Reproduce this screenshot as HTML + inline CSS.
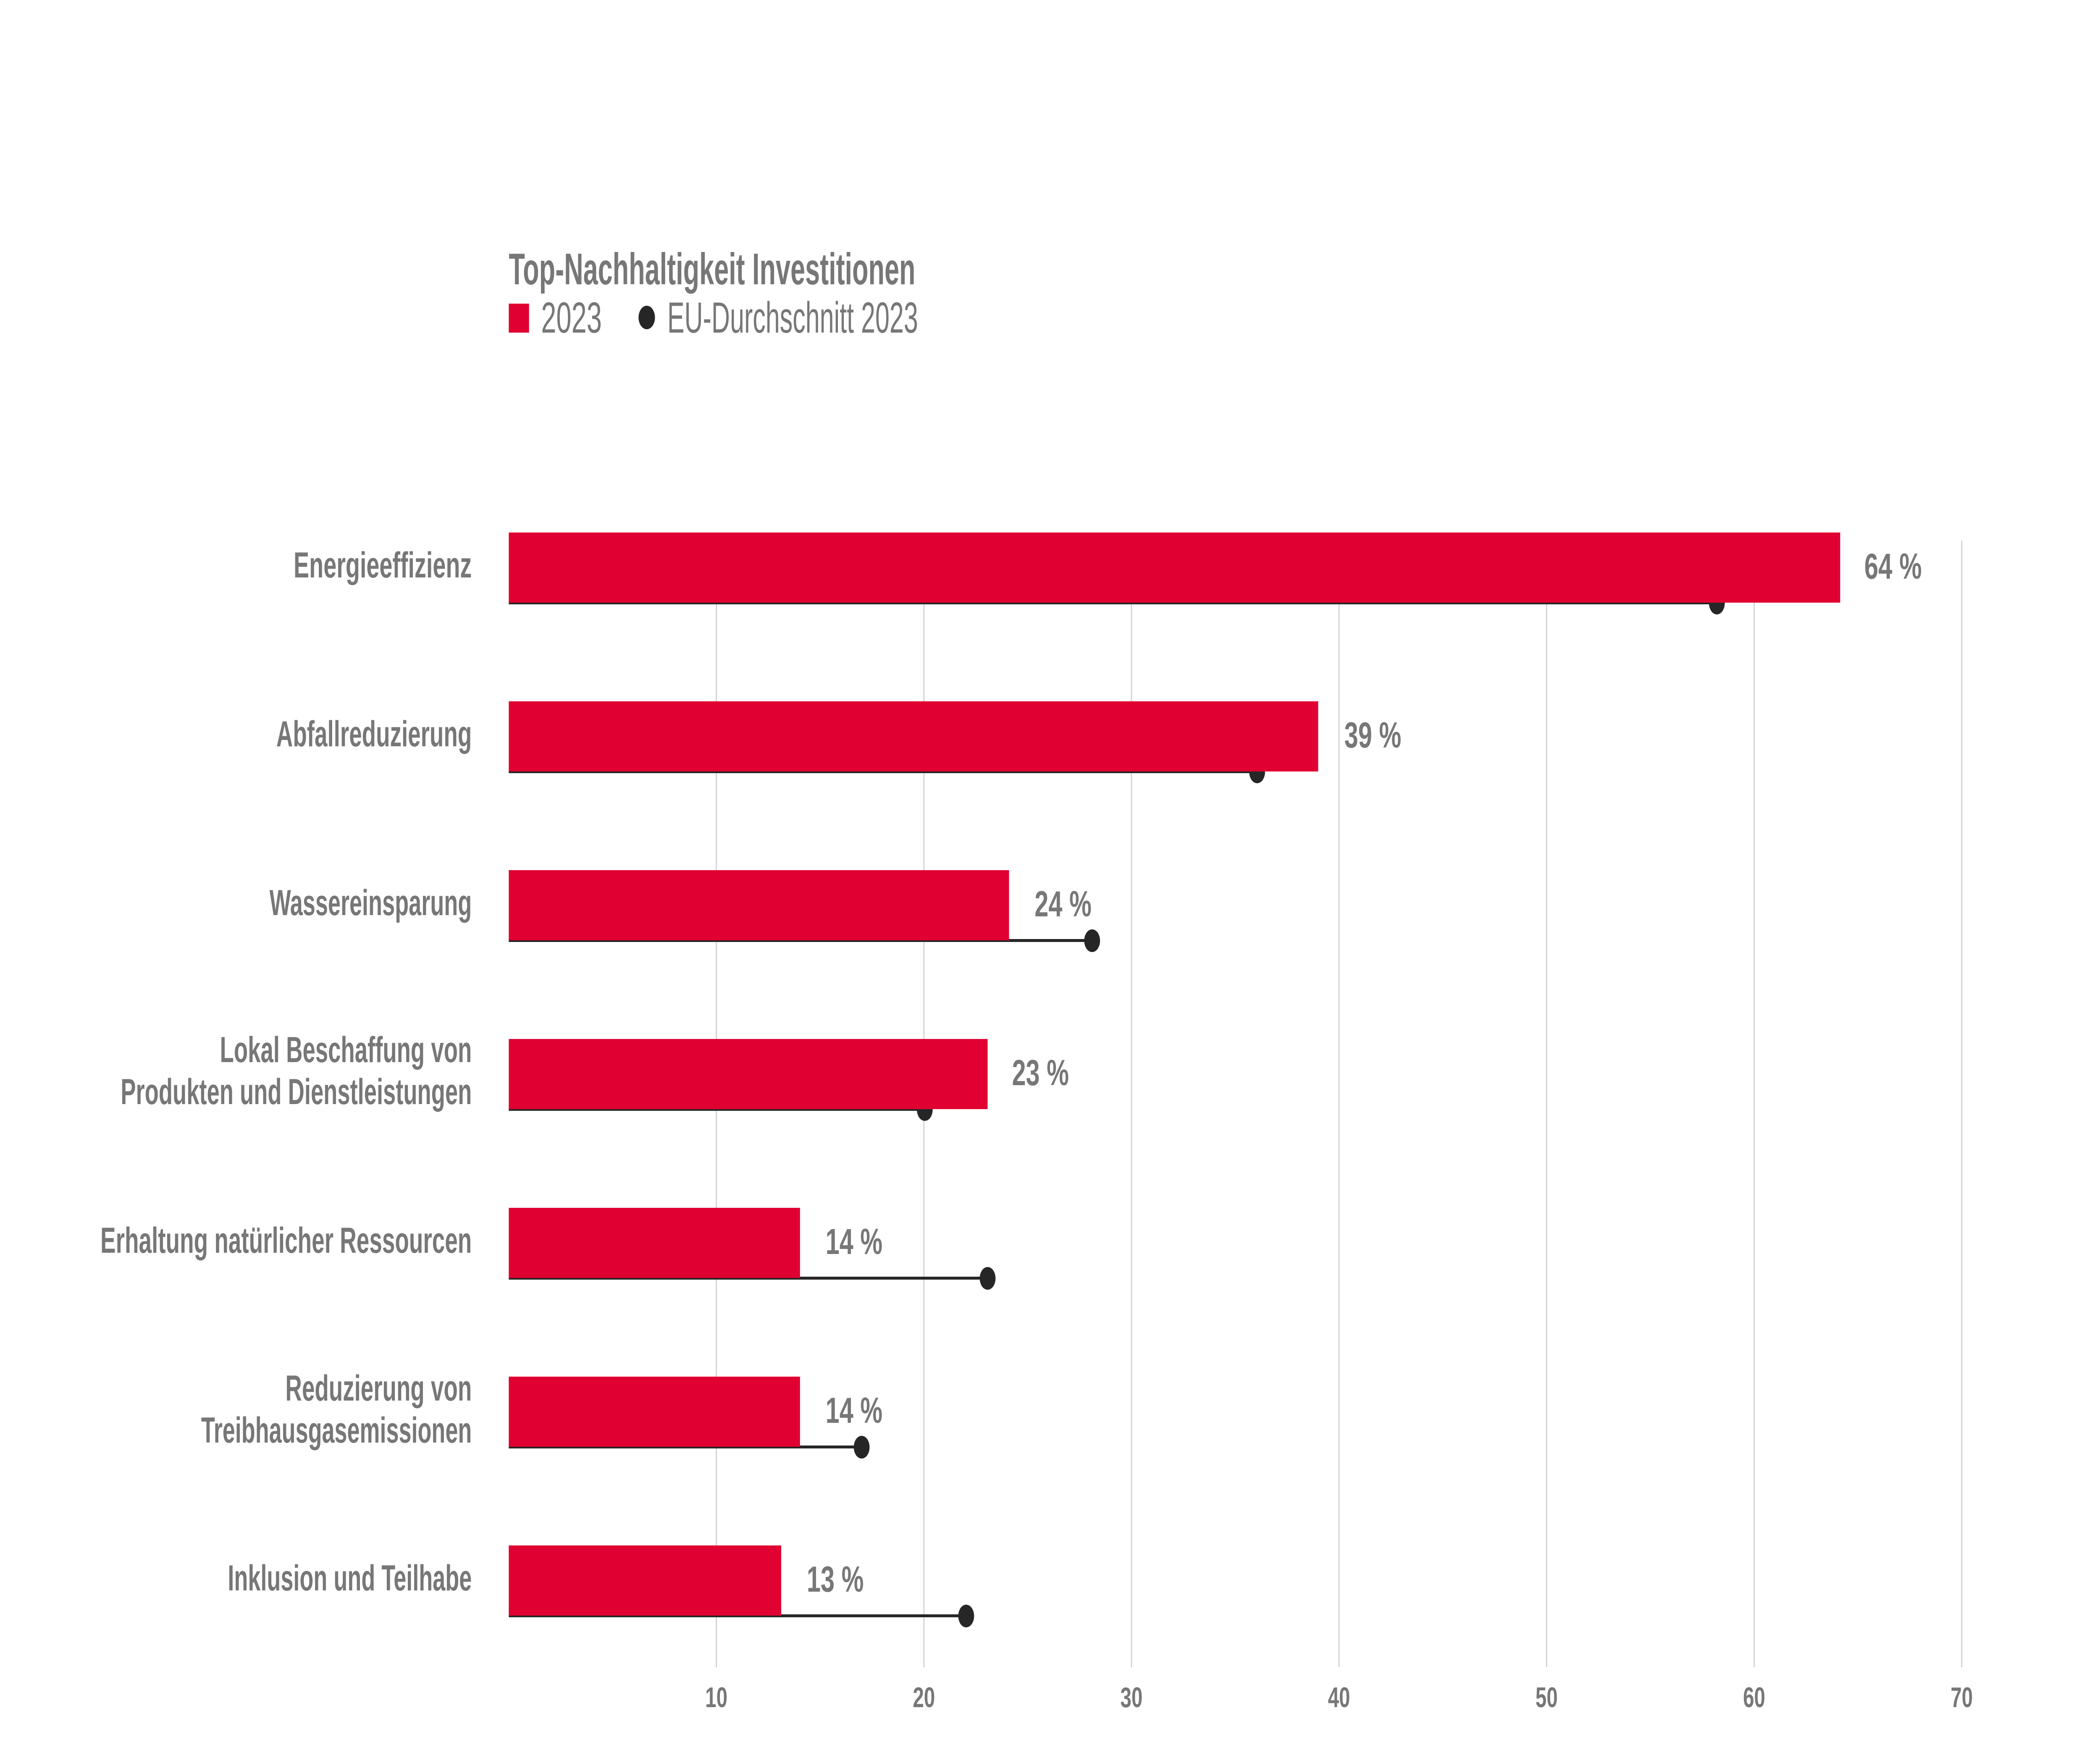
<!DOCTYPE html>
<html><head><meta charset="utf-8"><style>html,body{margin:0;padding:0;background:#fff;width:100%;height:100%;overflow:hidden}svg{display:block;width:100vw;height:100vh}</style></head><body>
<svg viewBox="0 0 7153 4198" preserveAspectRatio="none" xmlns="http://www.w3.org/2000/svg" font-family="'Liberation Sans Narrow','Liberation Sans',sans-serif">
<rect width="7153" height="4198" fill="#fff"/>
<g stroke="#d0d0d0" stroke-width="4">
<line x1="2440" y1="1287" x2="2440" y2="3970"/>
<line x1="3147" y1="1287" x2="3147" y2="3970"/>
<line x1="3854" y1="1287" x2="3854" y2="3970"/>
<line x1="4561" y1="1287" x2="4561" y2="3970"/>
<line x1="5268" y1="1287" x2="5268" y2="3970"/>
<line x1="5975" y1="1287" x2="5975" y2="3970"/>
<line x1="6682" y1="1287" x2="6682" y2="3970"/>
</g>
<g font-weight="bold" fill="#777" font-size="68" text-anchor="middle">
<text x="2440" y="4065">10</text><text x="3147" y="4065">20</text><text x="3854" y="4065">30</text><text x="4561" y="4065">40</text><text x="5268" y="4065">50</text><text x="5975" y="4065">60</text><text x="6682" y="4065">70</text>
</g>
<text x="1733" y="677" font-size="106" font-weight="bold" fill="#777" textLength="1385" lengthAdjust="spacingAndGlyphs">Top-Nachhaltigkeit Investitionen</text>
<rect x="1733" y="723" width="69" height="69" fill="#e00031"/>
<text x="1843" y="792" font-size="104" fill="#777" textLength="207" lengthAdjust="spacingAndGlyphs">2023</text>
<circle cx="2203" cy="756" r="28" fill="#262626"/>
<text x="2273" y="792" font-size="104" fill="#777" textLength="854" lengthAdjust="spacingAndGlyphs">EU-Durchschnitt 2023</text>
<g fill="#262626">
<rect x="1733" y="1432" width="4115" height="7"/><circle cx="5848" cy="1436" r="27"/>
<rect x="1733" y="1834" width="2549" height="7"/><circle cx="4282" cy="1838" r="27"/>
<rect x="1733" y="2236" width="1987" height="7"/><circle cx="3720" cy="2240" r="27"/>
<rect x="1733" y="2638" width="1417" height="7"/><circle cx="3150" cy="2642" r="27"/>
<rect x="1733" y="3040" width="1631" height="7"/><circle cx="3364" cy="3044" r="27"/>
<rect x="1733" y="3442" width="1202" height="7"/><circle cx="2935" cy="3446" r="27"/>
<rect x="1733" y="3844" width="1558" height="7"/><circle cx="3291" cy="3848" r="27"/>
</g>
<g fill="#e00031">
<rect x="1733" y="1268" width="4535" height="167"/>
<rect x="1733" y="1670" width="2757" height="167"/>
<rect x="1733" y="2072" width="1704" height="167"/>
<rect x="1733" y="2474" width="1631" height="167"/>
<rect x="1733" y="2876" width="992" height="167"/>
<rect x="1733" y="3278" width="992" height="167"/>
<rect x="1733" y="3680" width="928" height="167"/>
</g>
<g font-weight="bold" fill="#777" font-size="86">
<text x="6350" y="1378" textLength="196" lengthAdjust="spacingAndGlyphs">64 %</text>
<text x="4579" y="1780" textLength="194" lengthAdjust="spacingAndGlyphs">39 %</text>
<text x="3524" y="2182" textLength="194" lengthAdjust="spacingAndGlyphs">24 %</text>
<text x="3447" y="2584" textLength="194" lengthAdjust="spacingAndGlyphs">23 %</text>
<text x="2812" y="2986" textLength="194" lengthAdjust="spacingAndGlyphs">14 %</text>
<text x="2812" y="3388" textLength="194" lengthAdjust="spacingAndGlyphs">14 %</text>
<text x="2748" y="3790" textLength="194" lengthAdjust="spacingAndGlyphs">13 %</text>
</g>
<g font-weight="bold" fill="#777" font-size="86">
<text x="1000" y="1375" textLength="607" lengthAdjust="spacingAndGlyphs">Energieeffizienz</text>
<text x="941" y="1777" textLength="666" lengthAdjust="spacingAndGlyphs">Abfallreduzierung</text>
<text x="918" y="2179" textLength="689" lengthAdjust="spacingAndGlyphs">Wassereinsparung</text>
<text x="749" y="2529" textLength="858" lengthAdjust="spacingAndGlyphs">Lokal Beschaffung von</text>
<text x="411" y="2629" textLength="1196" lengthAdjust="spacingAndGlyphs">Produkten und Dienstleistungen</text>
<text x="342" y="2983" textLength="1265" lengthAdjust="spacingAndGlyphs">Erhaltung natürlicher Ressourcen</text>
<text x="972" y="3335" textLength="635" lengthAdjust="spacingAndGlyphs">Reduzierung von</text>
<text x="685" y="3435" textLength="922" lengthAdjust="spacingAndGlyphs">Treibhausgasemissionen</text>
<text x="776" y="3787" textLength="831" lengthAdjust="spacingAndGlyphs">Inklusion und Teilhabe</text>
</g>
</svg>
</body></html>
